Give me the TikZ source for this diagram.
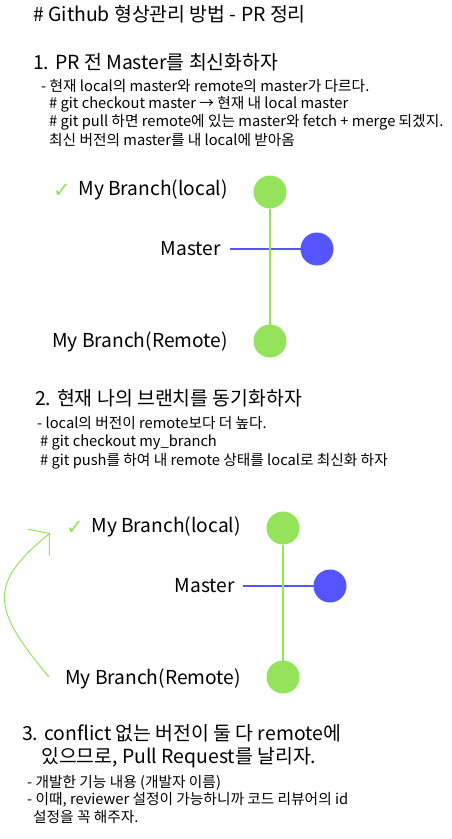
\documentclass[tikz,border=0pt]{standalone}
\usepackage{fontspec}
\setmainfont{Noto Sans CJK KR}
\newfontfamily\symfont{DejaVu Sans}
\usetikzlibrary{arrows.meta}

\definecolor{branchgreen}{HTML}{95E35B}
\definecolor{masterblue}{HTML}{5555FF}

\begin{document}
\begin{tikzpicture}[
    x = 1pt,
    y = -1pt,
    heading/.style = {anchor=west, inner sep=0pt, font=\fontsize{19.4}{22}\selectfont},
    note/.style = {anchor=west, inner sep=0pt, font=\fontsize{14.7}{17}\selectfont},
    label/.style = {anchor=east, inner sep=0pt, font=\fontsize{19.2}{22}\selectfont},
    tick/.style = {anchor=center, inner sep=0pt, text=branchgreen,
    font=\fontsize{21}{23}\symfont},
    branch/.style = {circle, fill=branchgreen, minimum size=33pt,
    inner sep=0pt, outer sep=0pt},
    master/.style = {circle, fill=masterblue, minimum size=33pt,
    inner sep=0pt, outer sep=0pt},
]

\useasboundingbox (0,0) rectangle (452,839);

% title
\node[heading] (title) at (33,14) {\# Github 형상관리 방법 - PR 정리};

% step 1
\node[heading] (step_1) at (33,62) {1. PR 전 Master를 최신화하자};
\node[note] (note_1a) at (41,86) {- 현재 local의 master와 remote의 master가 다르다.};
\node[note] (note_1b) at (49,104) {\# git checkout master → 현재 내 local master};
\node[note] (note_1c) at (49,122) {\# git pull 하면 remote에 있는 master와 fetch + merge 되겠지.};
\node[note] (note_1d) at (49,140) {최신 버전의 master를 내 local에 받아옴};

\node[tick] (tick_1) at (62,191) {✓};
\node[label] (local_1_text) at (228,190) {My Branch(local)};
\node[label] (master_1_text) at (221,249) {Master};
\node[label] (remote_1_text) at (228,342) {My Branch(Remote)};

\coordinate (master_1_start) at (230,249);
\node[master] (master_1) at (317,249){};
\draw [masterblue, line width=2pt] (master_1_start) -- (master_1);
\node[branch] (local_1) at (270,192){};
\node[branch] (remote_1) at (270,341){};
\draw [branchgreen, line width=2pt] (local_1) -- (remote_1);

% step 2
\node[heading] (step_2) at (35,398) {2. 현재 나의 브랜치를 동기화하자};
\node[note] (note_2a) at (37,423) {- local의 버전이 remote보다 더 높다.};
\node[note] (note_2b) at (40,442) {\# git checkout my\_branch};
\node[note] (note_2c) at (40,461) {\# git push를 하여 내 remote 상태를 local로 최신화 하자};

\node[tick] (tick_2) at (75,528) {✓};
\node[label] (local_2_text) at (241,527) {My Branch(local)};
\node[label] (master_2_text) at (235,586) {Master};
\node[label] (remote_2_text) at (241,679) {My Branch(Remote)};

\coordinate (master_2_start) at (243,586);
\node[master] (master_2) at (330,586){};
\draw [masterblue, line width=2pt] (master_2_start) -- (master_2);
\node[branch] (local_2) at (283,528){};
\node[branch] (remote_2) at (283,677){};
\draw [branchgreen, line width=2pt] (local_2) -- (remote_2);

\coordinate (push_from) at (49,677);
\coordinate (push_to) at (50,533);
\draw [branchgreen, line width=1pt,
    -{Straight Barb[length=14pt, width=34pt]}]
    (push_from) .. controls (-9,608) and (-12,584) .. (push_to);

% step 3
\node[heading] (step_3a) at (22,733) {3. conflict 없는 버전이 둘 다 remote에};
\node[heading] (step_3b) at (41,758) {있으므로, Pull Request를 날리자.};
\node[note] (note_3a) at (27,783) {- 개발한 기능 내용 (개발자 이름)};
\node[note] (note_3b) at (27,800) {- 이때, reviewer 설정이 가능하니까 코드 리뷰어의 id};
\node[note] (note_3c) at (33,817) {설정을 꼭 해주자.};

\end{tikzpicture}
\end{document}
